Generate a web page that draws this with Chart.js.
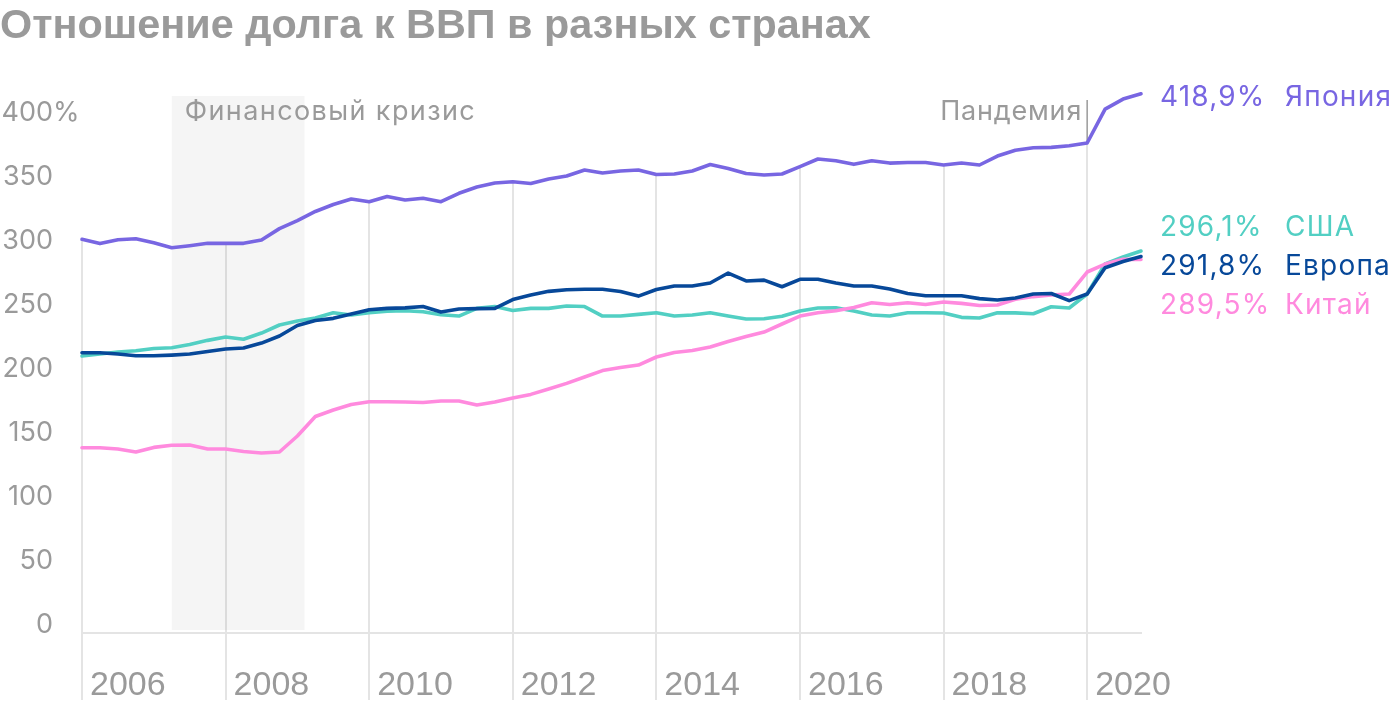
<!DOCTYPE html>
<html lang="ru">
<head>
<meta charset="UTF-8">
<title>Отношение долга к ВВП в разных странах</title>
<script src="https://cdn.jsdelivr.net/npm/chart.js"></script>
<style>
  html, body { margin: 0; padding: 0; background: #fff; }
</style>
</head>
<body>
<canvas id="debtChart" width="1400" height="704"></canvas>
<script>
// quarterly data, 2006 Q1 .. 2020 Q4 (% of GDP)
const quarters = [];
for (let yr = 2006; yr <= 2020; yr++) {
    for (let q = 1; q <= 4; q++) quarters.push(yr + ' Q' + q);
}

const japan = [305.2, 301.9, 304.9, 305.7, 302.5, 298.6, 300.2, 302.1, 302.1, 302.1,
    304.7, 313.6, 319.9, 327, 332.4, 336.7, 334.6, 338.7, 335.9, 337.3,
    334.6, 341.2, 346.1, 349.2, 350.2, 348.8, 352.3, 354.7, 359.4, 357,
    358.6, 359.4, 355.9, 356.3, 358.6, 363.7, 360.5, 356.6, 355.5, 356.3,
    362, 368, 366.6, 363.8, 366.6, 364.8, 365.2, 365.2, 363.3, 364.8,
    363.3, 370.3, 374.8, 376.8, 377.1, 378.3, 380.5, 407, 414.8, 418.9];

const europe = [216.6, 216.6, 215.6, 214.3, 214.3, 214.8, 215.6, 217.6, 219.5, 220.3,
    224.2, 229.7, 237.9, 241.8, 243.5, 246.9, 250.2, 251.3, 251.7, 252.7,
    248.4, 250.8, 251.1, 251.3, 258.2, 261.7, 264.6, 265.9, 266.2, 266.2,
    264.5, 260.9, 266, 268.8, 268.8, 271.1, 278.9, 272.7, 273.4, 268.2,
    274, 274, 271.1, 268.8, 268.8, 266.4, 262.9, 261.2, 261.2, 261.2,
    258.9, 257.8, 259.4, 262.5, 262.9, 257.3, 262.5, 283, 287.9, 291.8];

const usa = [214.1, 215.6, 217.2, 218.2, 219.9, 220.5, 223, 226.3, 228.9, 227.2,
    232, 238.3, 241.4, 243.8, 247.9, 246.1, 247.9, 249, 249.4, 248.7,
    246.3, 245.3, 251.3, 252.7, 249.6, 251.3, 251.3, 253.1, 252.7, 245.3,
    245.3, 246.6, 247.9, 245.3, 246.1, 247.9, 245.3, 243, 243.2, 245.1,
    249.2, 251.6, 251.8, 249.2, 246.1, 245.3, 247.9, 247.9, 247.7, 244.3,
    243.8, 247.9, 247.8, 247.1, 252.6, 251.6, 262.5, 286.1, 291.4, 296.1];

const china = [142.4, 142.4, 141.4, 139.1, 142.7, 144.4, 144.5, 141.4, 141.4, 139.5,
    138.3, 139.1, 151.6, 166.8, 171.9, 176.2, 178.4, 178.4, 178.1, 177.8,
    178.9, 178.9, 175.8, 178.1, 181.3, 184.1, 188.3, 192.7, 197.7, 202.7,
    205.1, 207, 213.3, 216.8, 218.4, 221.1, 225.4, 229.3, 232.8, 239.1,
    245.3, 247.9, 249.4, 252, 255.7, 254.3, 255.7, 254.3, 256.3, 255.2,
    253.5, 253.9, 258.4, 260.5, 261.7, 262.5, 279.7, 285.9, 289.6, 289.5];

const tickYears = [2006, 2008, 2010, 2012, 2014, 2016, 2018, 2020];
const yTicks = [0, 50, 100, 150, 200, 250, 300, 350, 400];

const endValues = ['418,9%', '296,1%', '291,8%', '289,5%'];
const endNames = ['Япония', 'США', 'Европа', 'Китай'];

const crisisBand = [2007.25, 2009.1];
const pandemicYear = 2020;

const colors = {
    japan: '#7866e2',
    usa: '#52cfc3',
    europe: '#074899',
    china: '#ff8ade'
};
const grey = '#9a9a9a';
const gridGrey = '#e4e4e4';
const sans = 'Inter, "Noto Sans", sans-serif';
const narrow = '"Liberation Sans Narrow", "Liberation Sans", sans-serif';

// quarter label -> decimal year on the x axis
function toPoints(values) {
    return values.map((v, i) => {
        const parts = quarters[i].split(' Q');
        return { x: Number(parts[0]) + (Number(parts[1]) - 1) / 4, y: v };
    });
}

function line(label, values, color) {
    return {
        label: label,
        data: toPoints(values),
        borderColor: color,
        borderWidth: 3.6,
        pointRadius: 0,
        tension: 0,
        clip: false,
        borderJoinStyle: 'round',
        borderCapStyle: 'round',
        fill: false
    };
}

const japanSet = line('Япония', japan, colors.japan);
// white above the Japan line hides the upper part of the year grid lines
japanSet.fill = 'end';
japanSet.backgroundColor = '#ffffff';

const notesPlugin = {
    id: 'notes',
    beforeDatasetsDraw(chart) {
        const { ctx, chartArea: a, scales: { x, y } } = chart;
        ctx.save();
        // left edge grid line also stops at the Japan line
        ctx.fillStyle = '#ffffff';
        ctx.fillRect(a.left - 2, a.top, 4, y.getPixelForValue(japan[0]) - a.top);

        const x0 = x.getPixelForValue(crisisBand[0]);
        const x1 = x.getPixelForValue(crisisBand[1]);
        ctx.fillStyle = 'rgba(0,0,0,0.04)';
        ctx.fillRect(x0, a.top, x1 - x0, y.getPixelForValue(0) - a.top);

        const px = x.getPixelForValue(pandemicYear);
        const idx = quarters.indexOf(pandemicYear + ' Q1');
        const jy = y.getPixelForValue(japan[idx]);
        ctx.strokeStyle = grey;
        ctx.lineWidth = 1.5;
        ctx.beginPath();
        ctx.moveTo(px, a.top + 4);
        ctx.lineTo(px, jy);
        ctx.stroke();
        ctx.restore();
    },
    afterDraw(chart) {
        const { ctx, scales: { x, y } } = chart;
        ctx.save();
        ctx.textBaseline = 'alphabetic';
        ctx.font = '400 27px ' + sans;
        ctx.fillStyle = grey;

        // y axis labels, numbers right aligned, % sticks out
        yTicks.forEach(v => {
            const py = y.getPixelForValue(v) + 2.5;
            ctx.textAlign = 'right';
            ctx.fillText(String(v), 53, py);
            if (v === 400) {
                ctx.textAlign = 'left';
                ctx.fillText('%', 53, py);
            }
        });

        ctx.letterSpacing = '1.4px';
        ctx.textAlign = 'left';
        ctx.fillText('Финансовый кризис', x.getPixelForValue(crisisBand[0]) + 13, 120);
        ctx.letterSpacing = '0.8px';
        ctx.textAlign = 'right';
        ctx.fillText('Пандемия', x.getPixelForValue(pandemicYear) - 5, 120);

        // end labels
        const labelColors = [colors.japan, colors.usa, colors.europe, colors.china];
        const baselines = [106, 236, 275, 314];
        ctx.font = '400 28px ' + sans;
        ctx.letterSpacing = '1.2px';
        ctx.textAlign = 'left';
        endValues.forEach((t, i) => {
            ctx.fillStyle = labelColors[i];
            ctx.fillText(t, 1160, baselines[i]);
            ctx.fillText(endNames[i], 1285, baselines[i]);
        });
        ctx.restore();
    }
};

const ctx = document.getElementById('debtChart');
new Chart(ctx, {
    type: 'line',
    data: {
        datasets: [
            japanSet,
            line('Европа', europe, colors.europe),
            line('Китай', china, colors.china),
            line('США', usa, colors.usa)
        ]
    },
    options: {
        responsive: false,
        animation: false,
        devicePixelRatio: 1,
        layout: { padding: { left: 0, right: 259, top: 0, bottom: 0 } },
        plugins: {
            legend: { display: false },
            tooltip: { enabled: false },
            filler: { drawTime: 'beforeDatasetsDraw' },
            title: {
                display: true,
                text: 'Отношение долга к ВВП в разных странах',
                align: 'start',
                color: grey,
                font: { family: narrow, size: 41.4, weight: 'bold', lineHeight: 1 },
                padding: { top: 6, bottom: 48.6 }
            }
        },
        scales: {
            x: {
                type: 'linear',
                min: 2006,
                max: 2020.75,
                afterBuildTicks(scale) {
                    scale.ticks = tickYears.map(v => ({ value: v }));
                },
                afterFit(scale) {
                    scale.height = 71;
                },
                grid: { color: gridGrey, lineWidth: 2, tickLength: 67 },
                border: { display: true, color: gridGrey, width: 2 },
                ticks: {
                    align: 'start',
                    labelOffset: 8,
                    padding: -35,
                    color: grey,
                    autoSkip: false,
                    maxRotation: 0,
                    font: { family: narrow, size: 34 },
                    callback: v => String(v)
                }
            },
            y: {
                min: -2.3,
                max: 417.2,
                afterBuildTicks(scale) {
                    scale.ticks = yTicks.map(v => ({ value: v }));
                },
                afterFit(scale) {
                    scale.width = 82;
                },
                grid: { display: false },
                border: { display: false },
                ticks: { display: false }
            }
        }
    },
    plugins: [notesPlugin]
});
</script>
</body>
</html>
